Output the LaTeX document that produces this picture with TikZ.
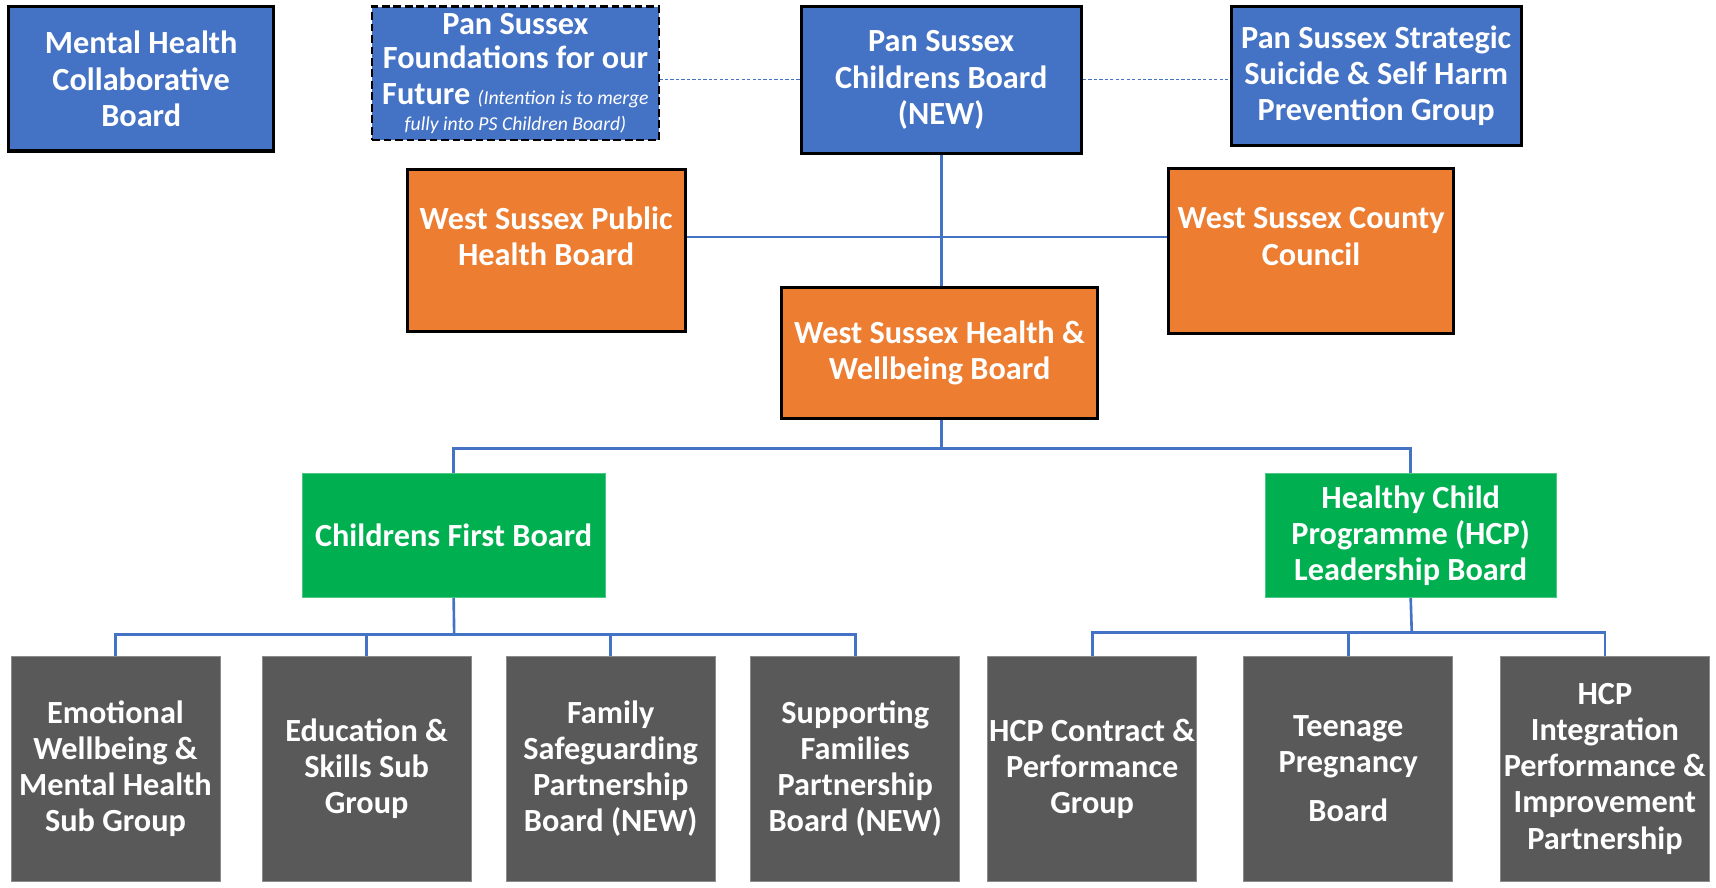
\documentclass[tikz,border=0pt]{standalone}
\usepackage{fontspec}
\setmainfont{Carlito}
\definecolor{pblue}{HTML}{4472C4}
\definecolor{porange}{HTML}{ED7D31}
\definecolor{pgreen}{HTML}{00B050}
\definecolor{pgray}{HTML}{595959}
\newcommand{\smallit}{\fontsize{18}{22}\selectfont\mdseries\itshape}
\tikzset{
  box/.style={rectangle, align=center, text=white, font=\fontsize{29.5}{33}\selectfont\bfseries, inner sep=1pt},
  bluebox/.style={box, fill=pblue, draw=black, line width=2.8pt},
  orangebox/.style={box, fill=porange, draw=black, line width=2.8pt},
  greenbox/.style={box, fill=pgreen, draw=pgreen!70!white, line width=0.7pt},
  graybox/.style={box, fill=pgray, draw=pgray!70!white, line width=0.7pt, minimum width=191pt, minimum height=205pt},
  conn/.style={draw=pblue, line width=2.4pt},
  dconn/.style={draw=pblue, line width=0.9pt, dash pattern=on 3pt off 2pt},
}
\begin{document}
\begin{tikzpicture}[x=1pt,y=-1pt]
\useasboundingbox (0,0) rectangle (1568,810.5);
% top row
\node[bluebox, minimum width=242pt, minimum height=132pt] (MH) at (129,72) {Mental Health\\Collaborative\\Board};
\node[bluebox, line width=2.2pt, dash pattern=on 7pt off 3.5pt, minimum width=262pt, minimum height=122pt] (FO) at (471,67) {Pan Sussex\\[-2pt]Foundations for our\\Future {\smallit (Intention is to merge}\\[-9pt]{\smallit fully into PS Children Board)}};
\node[bluebox, minimum width=256pt, minimum height=134pt] (PC) at (860,73) {Pan Sussex\\Childrens Board\\(NEW)};
\node[bluebox, minimum width=265pt, minimum height=127pt] (SS) at (1257.5,69.5) {Pan Sussex Strategic\\Suicide \& Self Harm\\Prevention Group};
% orange
\node[orangebox, minimum width=254pt, minimum height=148pt] (PH) at (499,229) {West Sussex Public\\Health Board\\[-6pt]};
\node[orangebox, minimum width=260pt, minimum height=151pt] (CC) at (1198,229.5) {West Sussex County\\Council\\[-6pt]};
\node[orangebox, minimum width=289pt, minimum height=119pt] (HW) at (858.5,322.5) {West Sussex Health \&\\Wellbeing Board};
% green
\node[greenbox, minimum width=277pt, minimum height=113pt] (CF) at (414.5,489.5) {Childrens First Board};
\node[greenbox, minimum width=266pt, minimum height=113pt] (HC) at (1289,489.5) {Healthy Child\\Programme (HCP)\\Leadership Board};
% gray
\node[graybox] (G1) at (105.5,702.5) {Emotional\\Wellbeing \&\\Mental Health\\Sub Group};
\node[graybox] (G2) at (335,702.5) {Education \&\\Skills Sub\\Group};
\node[graybox] (G3) at (558,702.5) {Family\\Safeguarding\\Partnership\\Board (NEW)};
\node[graybox] (G4) at (781.5,702.5) {Supporting\\Families\\Partnership\\Board (NEW)};
\node[graybox] (G5) at (998,702.5) {HCP Contract \&\\Performance\\Group};
\node[graybox] (G6) at (1232,702.5) {Teenage\\Pregnancy\\[12pt]Board};
\node[graybox] (G7) at (1466.5,702.5) {HCP\\Integration\\Performance \&\\Improvement\\Partnership};
% connectors
\coordinate (hl) at (860,216.5);
\coordinate (b1) at (860,410);
\coordinate (b2) at (415,580);
\coordinate (b3) at (1290,578);
\draw[dconn] (PC.west) -- (PC.west -| FO.east);
\draw[dconn] (PC.east) -- (PC.east -| SS.west);
\draw[conn] (PC.south) -- (HW.north -| PC.south);
\draw[conn] (PH.east |- hl) -- (CC.west |- hl);
\draw[conn] (HW.south -| b1) -- (b1);
\draw[conn] (CF.north) |- (b1) -| (HC.north);
\draw[conn] (CF.south) -- (b2);
\draw[conn] (G1.north) |- (b2) -| (G4.north);
\draw[conn] (G2.north) -- (G2.north |- b2);
\draw[conn] (G3.north) -- (G3.north |- b2);
\draw[conn] (HC.south) -- (b3);
\draw[conn] (G5.north) |- (b3) -| (G7.north);
\draw[conn] (G6.north) -- (G6.north |- b3);
\end{tikzpicture}
\end{document}
